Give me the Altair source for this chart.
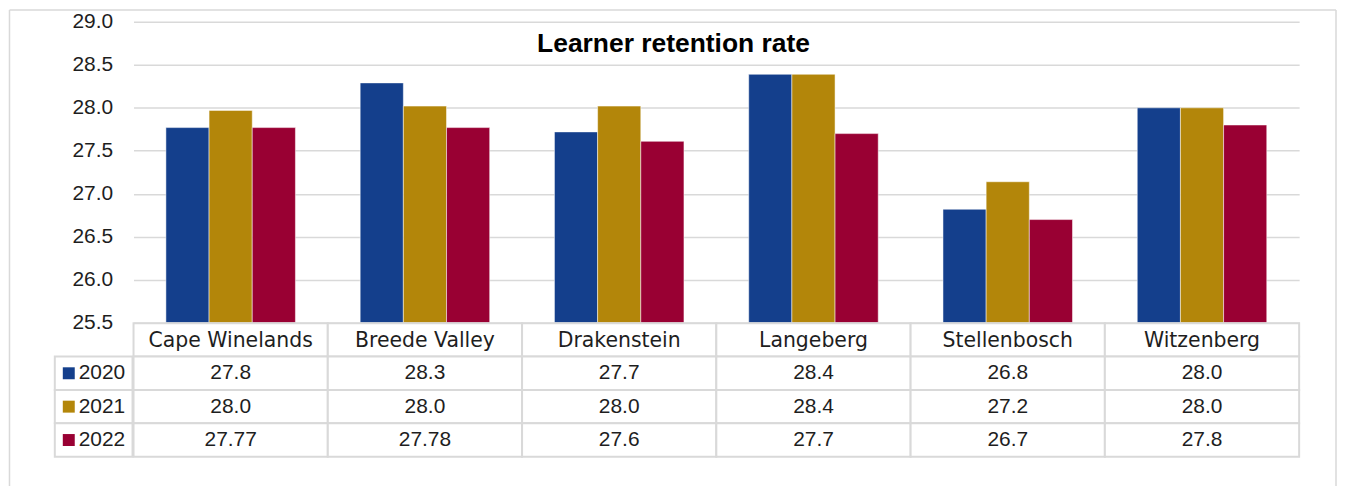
import altair as alt
import pandas as pd

districts = ["Cape Winelands", "Breede Valley", "Drakenstein", "Langeberg", "Stellenbosch", "Witzenberg"]
years = ["2020", "2021", "2022"]
v2020 = [27.77, 28.29, 27.72, 28.39, 26.82, 28.00]
v2021 = [27.97, 28.02, 28.02, 28.39, 27.14, 28.00]
v2022 = [27.77, 27.77, 27.61, 27.70, 26.70, 27.80]
labels2020 = ["27.8", "28.3", "27.7", "28.4", "26.8", "28.0"]
labels2021 = ["28.0", "28.0", "28.0", "28.4", "27.2", "28.0"]
labels2022 = ["27.77", "27.78", "27.6", "27.7", "26.7", "27.8"]
colors = ["#143F8C", "#B3860A", "#990033"]
y_ticks = [25.5, 26.0, 26.5, 27.0, 27.5, 28.0, 28.5, 29.0]
title_text = ["Learner retention rate"]
rows = ["header", "2020", "2021", "2022"]

values = {"2020": v2020, "2021": v2021, "2022": v2022}
labels = {"2020": labels2020, "2021": labels2021, "2022": labels2022}

bar_df = pd.DataFrame([
    {"District": d, "Year": y, "Value": values[y][i], "Label": labels[y][i]}
    for y in years for i, d in enumerate(districts)
])
cell_df = pd.DataFrame([{"District": d, "Row": r} for r in rows for d in districts])
header_df = pd.DataFrame({"District": districts, "Row": ["header"] * len(districts)})
value_df = bar_df.rename(columns={"Year": "Row"})
legend_df = pd.DataFrame({"Row": years, "Year": years})
title_df = pd.DataFrame({"t": title_text})
one = pd.DataFrame({"a": [0]})

GRID = "#d9d9d9"
TXT = "#1e1e1e"

x_bar = alt.X("District:N", sort=districts,
              scale=alt.Scale(domain=districts, paddingInner=1/3, paddingOuter=1/6), axis=None)
x_tab = alt.X("District:N", sort=districts,
              scale=alt.Scale(domain=districts, paddingInner=0, paddingOuter=0), axis=None)
y_tab = alt.Y("Row:N", sort=rows,
              scale=alt.Scale(domain=rows, range=[302.5, 436.5], paddingInner=0, paddingOuter=0), axis=None)

bars = alt.Chart(bar_df).mark_bar(stroke="white", strokeWidth=1, strokeOpacity=0.5).encode(
    x=x_bar,
    xOffset=alt.XOffset("Year:N", sort=years, scale=alt.Scale(domain=years, paddingInner=0, paddingOuter=0)),
    y=alt.Y("Value:Q", scale=alt.Scale(domain=[25.5, 29.0], zero=False, nice=False),
            axis=alt.Axis(values=y_ticks, format=".1f", title=None, domain=False, ticks=False,
                          labelFont="Liberation Sans", labelFontSize=21, labelColor=TXT,
                          labelPadding=21, gridColor=GRID, gridWidth=1.5)),
    y2=alt.datum(25.5),
    color=alt.Color("Year:N", scale=alt.Scale(domain=years, range=colors), legend=None),
)

cells = alt.Chart(cell_df).mark_rect(fill="white", stroke=GRID, strokeWidth=2).encode(
    x=x_tab, y=y_tab)

header_text = alt.Chart(header_df).mark_text(
    font="DejaVu Sans", fontSize=20.5, color=TXT, baseline="middle", align="center", dy=1).encode(
    x=x_tab, y=y_tab, text="District:N")

value_text = alt.Chart(value_df).mark_text(
    font="Liberation Sans", fontSize=21, color=TXT, baseline="middle", align="center", dy=0).encode(
    x=x_tab, y=y_tab, text="Label:N")

legend_cells = alt.Chart(legend_df).mark_rect(fill="white", stroke=GRID, strokeWidth=2).encode(
    x=alt.value(-79), x2=alt.value(-1), y=y_tab)

legend_sq = alt.Chart(legend_df).mark_square(size=144, opacity=1).encode(
    x=alt.value(-65), y=y_tab,
    color=alt.Color("Year:N", scale=alt.Scale(domain=years, range=colors), legend=None))

legend_text = alt.Chart(legend_df).mark_text(
    font="Liberation Sans", fontSize=21, color=TXT, baseline="middle", align="left").encode(
    x=alt.value(-55), y=y_tab, text="Year:N")

title = alt.Chart(title_df).mark_text(
    font="Liberation Sans", fontSize=26.5, fontWeight="bold", color="#000000",
    baseline="alphabetic", align="center").encode(
    x=alt.value(542), y=alt.value(30.5), text="t:N")

border_left = alt.Chart(one).mark_rule(color=GRID, strokeWidth=1.5).encode(
    x=alt.value(-124.5), y=alt.value(-12), y2=alt.value(466))
border_top = alt.Chart(one).mark_rule(color=GRID, strokeWidth=1.5).encode(
    x=alt.value(-124.5), x2=alt.value(1207), y=alt.value(-12))
border_right = alt.Chart(one).mark_rule(color=GRID, strokeWidth=1.5).encode(
    x=alt.value(1207), y=alt.value(-12), y2=alt.value(466))

chart = alt.layer(
    border_left, border_top, border_right,
    bars, cells, legend_cells, header_text, value_text, legend_sq, legend_text, title,
).resolve_scale(
    x="independent", y="independent"
).properties(
    width=1170, height=302, padding=0
).configure_view(stroke=None)

chart.save("out.html", embed_options={"renderer": "svg", "actions": False})
